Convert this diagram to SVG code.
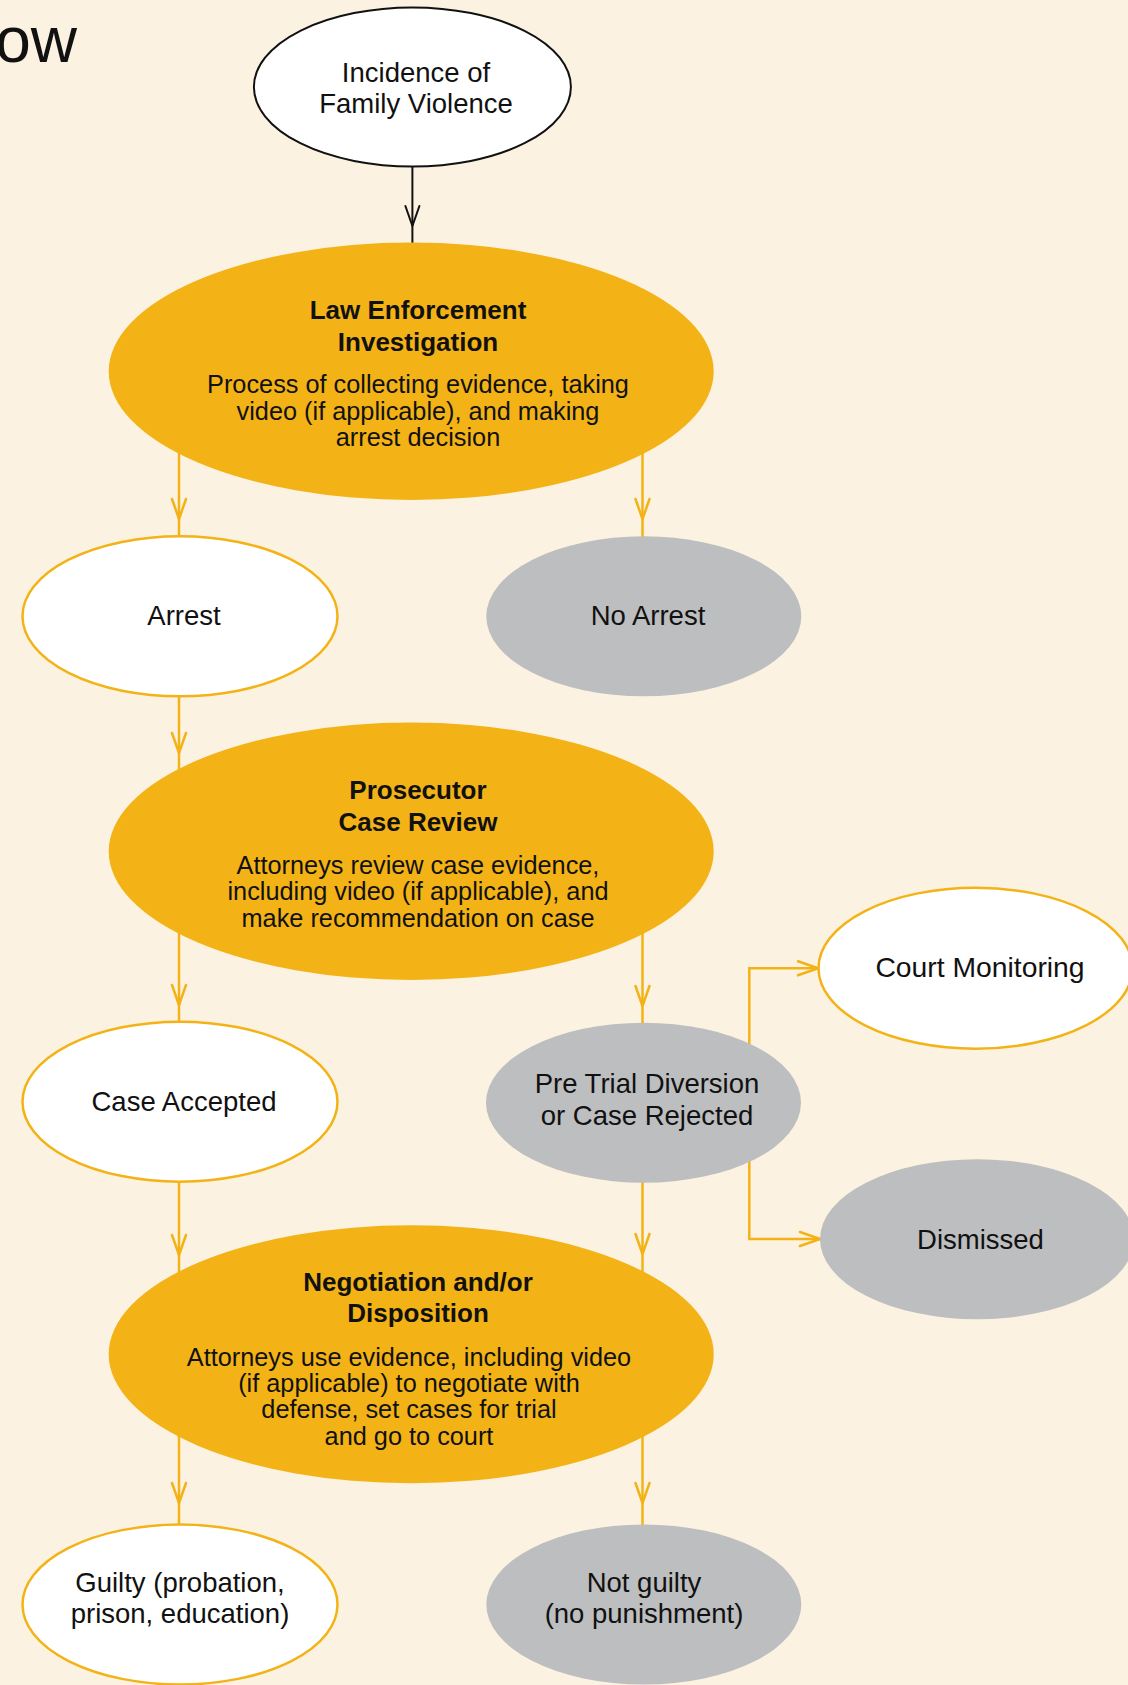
<svg xmlns="http://www.w3.org/2000/svg" width="1128" height="1685" viewBox="0 0 1128 1685">
<style>
text{font-family:"Liberation Sans",Arial,sans-serif;fill:#111;text-anchor:middle}
.lbl{font-size:27.5px}
.ttl{font-size:26px;font-weight:bold}
.dsc{font-size:25.3px}
.big{font-size:64px;text-anchor:end}
.key{fill:#F3B316}
.out{fill:#fff;stroke:#F3B316;stroke-width:2.5}
.no{fill:#BDBEC0}
.start{fill:#fff;stroke:#111;stroke-width:2}
.c{fill:none;stroke:#F3B316;stroke-width:2.5}
.cb{fill:none;stroke:#111;stroke-width:2}
</style>
<defs>
<marker id="ah" viewBox="-23 -9 26 18" refX="0" refY="0" markerWidth="26" markerHeight="18" markerUnits="userSpaceOnUse" orient="auto">
<path d="M-20,-7 L0,0 L-20,7" fill="none" stroke="#F3B316" stroke-width="2.5" stroke-linejoin="round" stroke-linecap="round"/>
</marker>
<marker id="ahb" viewBox="-23 -9 26 18" refX="0" refY="0" markerWidth="26" markerHeight="18" markerUnits="userSpaceOnUse" orient="auto">
<path d="M-20,-7 L0,0 L-20,7" fill="none" stroke="#111" stroke-width="2" stroke-linejoin="round" stroke-linecap="round"/>
</marker>
</defs>
<rect width="1128" height="1685" fill="#FCF2E2"/>
<text class="big" x="77" y="62">ow</text>
<g id="connectors">
<path class="cb" d="M412.4,167 V226 V245" marker-mid="url(#ahb)"/>
<path class="c" d="M179,420 V519 V537" marker-mid="url(#ah)"/>
<path class="c" d="M642.5,420 V519 V537" marker-mid="url(#ah)"/>
<path class="c" d="M179,696 V753 V780" marker-mid="url(#ah)"/>
<path class="c" d="M179,900 V1005 V1022" marker-mid="url(#ah)"/>
<path class="c" d="M642.5,900 V1006 V1023" marker-mid="url(#ah)"/>
<path class="c" d="M749.3,1060 V968.3 H818" marker-end="url(#ah)"/>
<path class="c" d="M749.3,1140 V1239 H820" marker-end="url(#ah)"/>
<path class="c" d="M179,1181 V1255 V1285" marker-mid="url(#ah)"/>
<path class="c" d="M642.5,1182 V1254 V1285" marker-mid="url(#ah)"/>
<path class="c" d="M179,1400 V1503 V1525" marker-mid="url(#ah)"/>
<path class="c" d="M642.5,1400 V1503 V1525" marker-mid="url(#ah)"/>
</g>
<g id="incidence">
<ellipse class="start" cx="412.4" cy="87" rx="158.5" ry="79.5"/>
<text class="lbl" x="416" y="81.7">Incidence of</text>
<text class="lbl" x="416" y="113.3">Family Violence</text>
</g>
<g id="law-enforcement">
<ellipse class="key" cx="411.2" cy="371.3" rx="302.5" ry="128.7"/>
<text class="ttl" x="418" y="319.3">Law Enforcement</text>
<text class="ttl" x="418" y="351">Investigation</text>
<text class="dsc" x="418" y="393.3">Process of collecting evidence, taking</text>
<text class="dsc" x="418" y="420">video (if applicable), and making</text>
<text class="dsc" x="418" y="446">arrest decision</text>
</g>
<g id="arrest">
<ellipse class="out" cx="180" cy="616.3" rx="157.5" ry="80"/>
<text class="lbl" x="184" y="624.5">Arrest</text>
</g>
<g id="no-arrest">
<ellipse class="no" cx="643.8" cy="616.3" rx="157.5" ry="80"/>
<text class="lbl" x="648" y="624.5">No Arrest</text>
</g>
<g id="prosecutor">
<ellipse class="key" cx="411.2" cy="851.3" rx="302.5" ry="128.7"/>
<text class="ttl" x="418" y="798.7">Prosecutor</text>
<text class="ttl" x="418" y="830.7">Case Review</text>
<text class="dsc" x="418" y="874">Attorneys review case evidence,</text>
<text class="dsc" x="418" y="900">including video (if applicable), and</text>
<text class="dsc" x="418" y="926.7">make recommendation on case</text>
</g>
<g id="case-accepted">
<ellipse class="out" cx="180" cy="1101.7" rx="157.5" ry="80"/>
<text class="lbl" x="184" y="1110.5">Case Accepted</text>
</g>
<g id="pre-trial">
<ellipse class="no" cx="643.5" cy="1102.7" rx="157.5" ry="80"/>
<text class="lbl" x="647" y="1092.7">Pre Trial Diversion</text>
<text class="lbl" x="647" y="1125">or Case Rejected</text>
</g>
<g id="court-monitoring">
<ellipse class="out" cx="975.5" cy="968.2" rx="157" ry="80.5"/>
<text class="lbl" x="980" y="976.5" style="font-size:28.3px">Court Monitoring</text>
</g>
<g id="dismissed">
<ellipse class="no" cx="977" cy="1239.2" rx="157" ry="80"/>
<text class="lbl" x="980.5" y="1248.5">Dismissed</text>
</g>
<g id="negotiation">
<ellipse class="key" cx="411.2" cy="1354.2" rx="302.5" ry="129"/>
<text class="ttl" x="418" y="1290.7">Negotiation and/or</text>
<text class="ttl" x="418" y="1322">Disposition</text>
<text class="dsc" x="409" y="1365.7">Attorneys use evidence, including video</text>
<text class="dsc" x="409" y="1391.7">(if applicable) to negotiate with</text>
<text class="dsc" x="409" y="1418.3">defense, set cases for trial</text>
<text class="dsc" x="409" y="1445">and go to court</text>
</g>
<g id="guilty">
<ellipse class="out" cx="180" cy="1604.5" rx="157.5" ry="80"/>
<text class="lbl" x="180" y="1591.7">Guilty (probation,</text>
<text class="lbl" x="180" y="1623.3">prison, education)</text>
</g>
<g id="not-guilty">
<ellipse class="no" cx="643.8" cy="1604.5" rx="157.5" ry="80"/>
<text class="lbl" x="644" y="1591.7">Not guilty</text>
<text class="lbl" x="644" y="1623.3">(no punishment)</text>
</g>
</svg>
